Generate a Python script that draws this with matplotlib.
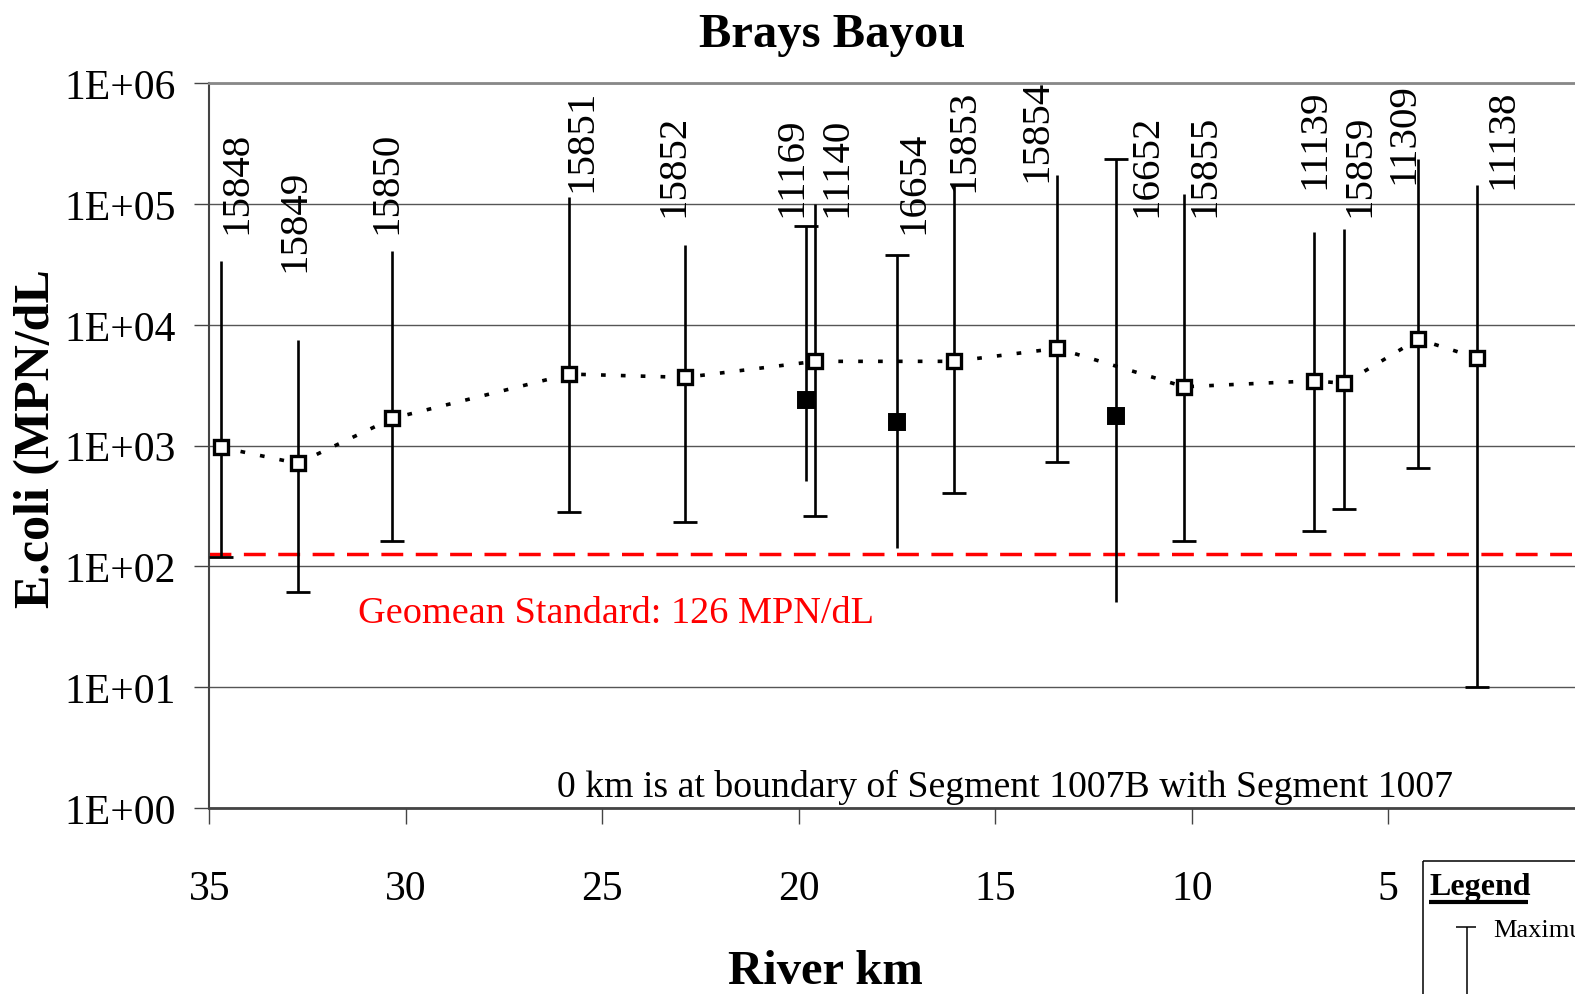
import numpy as np
import matplotlib
matplotlib.use('Agg')
import matplotlib.pyplot as plt
from matplotlib.lines import Line2D

# ---------------- data ----------------
stations = ['15848', '15849', '15850', '15851', '15852', '11169', '11140', '16654',
            '15853', '15854', '16652', '15855', '11139', '15859', '11309', '11138']
river_km = [34.70, 32.75, 30.34, 25.84, 22.89, 19.81, 19.58, 17.49,
            16.05, 13.42, 11.92, 10.19, 6.88, 6.12, 4.24, 2.73]
geomean = [968, 713, 1682, 3914, 3676, 2398, 4987, 1576,
           4990, 6390, 1766, 3072, 3443, 3278, 7627, 5309]
maximum = [34000, 7480, 41100, 115000, 46000, 65400, 101000, 37900,
           144000, 174000, 236000, 121000, 58700, 62100, 236000, 144000]
minimum = [119, 61.6, 163, 280, 234, 506, 262, 141,
           402, 735, 50.9, 163, 195, 298, 656, 10]
# True = filled-square stations (not on the dotted main-stem line)
filled = [False, False, False, False, False, True, False, True,
          False, False, True, False, False, False, False, False]
standard = 126
y_ticks = [1, 10, 100, 1000, 10000, 100000, 1000000]
y_tick_labels = ['1E+00', '1E+01', '1E+02', '1E+03', '1E+04', '1E+05', '1E+06']
x_ticks = [35, 30, 25, 20, 15, 10, 5]

# layout: station label anchor (km, log10 of bottom)
label_km = [34.30, 32.82, 30.49, 25.52, 23.19, 20.18, 19.03, 17.08,
            15.81, 13.94, 11.14, 9.66, 6.86, 5.71, 4.61, 2.07]
label_log = [4.793, 4.479, 4.793, 5.141, 4.934, 4.934, 4.934, 4.793,
             5.141, 5.224, 4.934, 4.934, 5.166, 4.934, 5.207, 5.166]

plt.rcParams['font.family'] = ['Liberation Serif', 'DejaVu Serif']

W, H = 1575, 995
fig = plt.figure(figsize=(W / 100, H / 100), dpi=100)


def fx(px):
    return px / W


def fy(py):
    return 1 - py / H


ax = fig.add_axes([fx(209.3), fy(809), (1584.7 - 209.3) / W, (809 - 84.3) / H])
ax.set_yscale('log')
ax.set_xlim(35, 0)
ax.set_ylim(1, 1e6)

ax.yaxis.set_major_locator(matplotlib.ticker.FixedLocator(y_ticks))
ax.yaxis.set_minor_locator(matplotlib.ticker.NullLocator())
ax.set_yticks(y_ticks)
ax.set_yticklabels(y_tick_labels)
ax.set_xticks(x_ticks)
ax.set_xticklabels([str(t) for t in x_ticks])

ax.yaxis.grid(True, color='#555555', lw=1.0)
ax.set_axisbelow(True)

ax.tick_params(axis='y', direction='out', length=10.8, width=1.0, pad=13.5,
               labelsize=30, color='#444444')
ax.tick_params(axis='x', direction='out', length=11.5, width=1.0, pad=33,
               labelsize=30, color='#444444')

ax.spines['right'].set_visible(False)
ax.spines['top'].set_color('#888888')
ax.spines['top'].set_linewidth(2.0)
ax.spines['left'].set_color('#444444')
ax.spines['left'].set_linewidth(1.5)
ax.spines['bottom'].set_color('#444444')
ax.spines['bottom'].set_linewidth(2.0)

km = np.array(river_km)
gm = np.array(geomean)
mx = np.array(maximum)
mn = np.array(minimum)
fl = np.array(filled)

# standard line
ax.axhline(standard, color='#ff0000', lw=2.5, dashes=(6.3, 3.6), zorder=2)

# error bars
ax.vlines(km, mn, mx, color='black', lw=1.9, zorder=3)
ax.plot(km[~fl], mn[~fl], ls='none', marker='_', ms=17, mew=2.0, color='black', zorder=3)
ax.plot(km[fl], mx[fl], ls='none', marker='_', ms=17, mew=2.0, color='black', zorder=3)

# dotted line through open squares
ax.plot(km[~fl], gm[~fl], color='black', lw=2.6, dashes=(1.3, 4.2), zorder=4)

# markers
ax.plot(km[~fl], gm[~fl], ls='none', marker='s', ms=10.2, mew=2.4,
        mfc='white', mec='black', zorder=5)
ax.plot(km[fl], gm[fl], ls='none', marker='s', ms=11.5, mew=1.4,
        mfc='black', mec='black', zorder=5)

# station labels
for name, lk, ll in zip(stations, label_km, label_log):
    ax.text(lk, 10 ** (ll - 0.035), name, rotation=90, ha='center', va='bottom',
            fontsize=29.5, color='black', zorder=6)

# texts
fig.text(fx(832), fy(46.7), 'Brays Bayou', ha='center', va='baseline',
         fontsize=35, fontweight='bold')
fig.text(fx(37.5), fy(439), 'E.coli (MPN/dL', rotation=90, ha='center', va='center',
         fontsize=36, fontweight='bold')
fig.text(fx(825), fy(984), 'River km', ha='center', va='baseline',
         fontsize=35, fontweight='bold')
fig.text(fx(358), fy(623), 'Geomean Standard: 126 MPN/dL', ha='left', va='baseline',
         fontsize=27.5, color='#ff0000')
fig.text(fx(557), fy(796.7), '0 km is at boundary of Segment 1007B with Segment 1007',
         ha='left', va='baseline', fontsize=27.2, color='black')

# partial legend box (cropped at figure edge, as in the reference)
def fline(x0, y0, x1, y1, lw):
    fig.add_artist(Line2D([fx(x0), fx(x1)], [fy(y0), fy(y1)], color='black', lw=lw,
                          transform=fig.transFigure, solid_capstyle='butt'))


fline(1422.7, 861.7, 1422.7, 1005, 1.1)
fline(1422.7, 861.7, 1590, 861.7, 1.1)
fig.text(fx(1429), fy(895), 'Legend', ha='left', va='baseline', fontsize=23, fontweight='bold')
fline(1429, 903, 1528, 903, 3.0)
fline(1456, 928.3, 1476, 928.3, 1.1)
fline(1466.7, 928.3, 1466.7, 1005, 1.1)
fig.text(fx(1493), fy(936.7), 'Maximum', ha='left', va='baseline', fontsize=19)

fig.savefig('out.png', dpi=100)
